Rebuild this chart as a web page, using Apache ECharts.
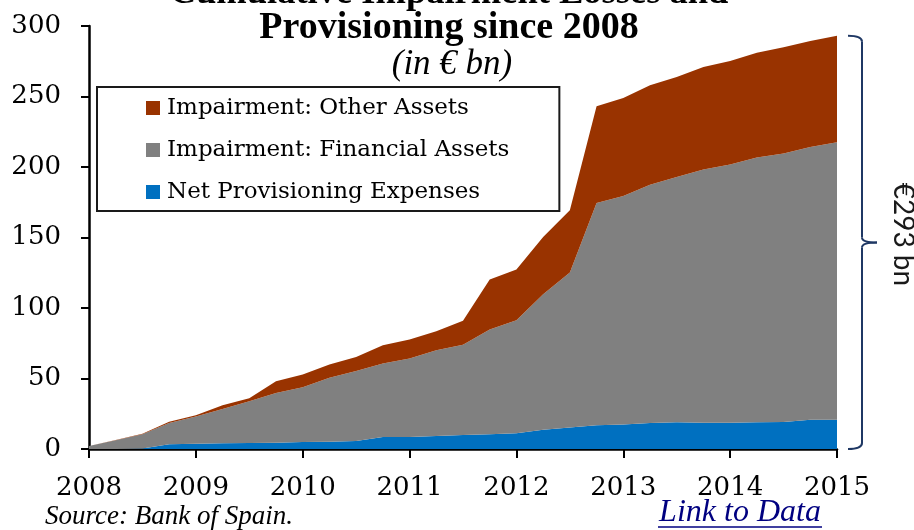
<!DOCTYPE html>
<html>
<head>
<meta charset="utf-8">
<script src="https://cdn.jsdelivr.net/npm/echarts@6/dist/echarts.min.js"></script>
<style>
  html, body { margin: 0; padding: 0; background: #fff; }
  #chart { width: 914px; height: 530px; }
</style>
</head>
<body>
<div id="chart"></div>
<script>
// Quarterly observations, 2008 to 2015 (EUR bn, cumulative)
const quarters = [
  '2008', '2008Q2', '2008Q3', '2008Q4',
  '2009', '2009Q2', '2009Q3', '2009Q4',
  '2010', '2010Q2', '2010Q3', '2010Q4',
  '2011', '2011Q2', '2011Q3', '2011Q4',
  '2012', '2012Q2', '2012Q3', '2012Q4',
  '2013', '2013Q2', '2013Q3', '2013Q4',
  '2014', '2014Q2', '2014Q3', '2014Q4',
  '2015'
];

const netProvisioning = [
  0, 0, 0.3, 3.3, 3.8, 4.0, 4.3, 4.5, 5.0, 5.2,
  5.7, 8.5, 8.5, 9.2, 9.9, 10.4, 11.1, 13.7, 15.2, 16.8,
  17.3, 18.4, 18.9, 18.7, 18.7, 18.9, 19.1, 20.8, 20.8
];

const impairmentFinancial = [
  2.1, 6.2, 10.1, 15.2, 19.2, 24.4, 29.6, 35.2, 38.8, 45.4,
  49.6, 52.1, 55.6, 60.8, 64.1, 74.3, 80.2, 96.0, 109.9, 157.7,
  162.1, 169.1, 174.0, 179.5, 183.0, 187.8, 190.4, 193.4, 196.7
];

const impairmentOther = [
  0, 0.2, 0.5, 0.9, 0.9, 2.6, 2.1, 8.3, 9.0, 9.4,
  10.0, 12.9, 13.5, 13.5, 17.0, 35.6, 36.0, 40.7, 44.2, 68.5,
  69.6, 70.5, 70.9, 72.8, 73.5, 74.4, 75.5, 75.2, 75.5
];

const yTicks = { min: 0, max: 300, interval: 50 };

const COLORS = { net: '#0070C0', fin: '#808080', other: '#993300' };
const SERIF = '"DejaVu Serif", serif';
const TITLE_SERIF = '"Liberation Serif", serif';
const BRACE = '#1F3864';

const chart = echarts.init(document.getElementById('chart'), null, { renderer: 'canvas' });

function areaSeries(name, data, color) {
  return {
    name: name,
    type: 'line',
    stack: 'total',
    data: data,
    showSymbol: false,
    symbol: 'none',
    lineStyle: { width: 0 },
    areaStyle: { color: color, opacity: 1 },
    itemStyle: { color: color },
    emphasis: { disabled: true },
    silent: true
  };
}

const option = {
  animation: false,
  backgroundColor: '#fff',
  grid: { left: 89, right: 77, top: 26, bottom: 81, containLabel: false },
  xAxis: {
    type: 'category',
    data: quarters,
    boundaryGap: false,
    axisLine: { show: true, lineStyle: { color: '#000', width: 2.5 } },
    axisTick: { show: true, interval: 3, length: 9, lineStyle: { color: '#000', width: 2 } },
    axisLabel: {
      interval: 3,
      margin: 26,
      color: '#000',
      fontFamily: SERIF,
      fontSize: 26
    },
    splitLine: { show: false }
  },
  yAxis: {
    type: 'value',
    min: yTicks.min,
    max: yTicks.max,
    interval: yTicks.interval,
    axisLine: { show: true, lineStyle: { color: '#000', width: 2.5 } },
    axisTick: { show: true, length: 8, lineStyle: { color: '#000', width: 2 } },
    axisLabel: {
      margin: 28,
      color: '#000',
      fontFamily: SERIF,
      fontSize: 26
    },
    splitLine: { show: false }
  },
  legend: {
    orient: 'vertical',
    left: 97,
    top: 87,
    padding: [7, 50, 5, 49],
    itemWidth: 14,
    itemHeight: 14,
    itemGap: 14,
    icon: 'rect',
    borderColor: '#1a1a1a',
    borderWidth: 2,
    backgroundColor: '#fff',
    itemStyle: { borderWidth: 0 },
    textStyle: { fontFamily: SERIF, fontSize: 23, color: '#000', lineHeight: 28, padding: [0, 0, 0, 2] },
    selectedMode: false,
    data: ['Impairment: Other Assets', 'Impairment: Financial Assets', 'Net Provisioning Expenses']
  },
  series: [
    areaSeries('Net Provisioning Expenses', netProvisioning, COLORS.net),
    areaSeries('Impairment: Financial Assets', impairmentFinancial, COLORS.fin),
    areaSeries('Impairment: Other Assets', impairmentOther, COLORS.other)
  ]
};

chart.setOption(option);

// Brace spanning the final stacked total, placed from the axis scales
const last = quarters.length - 1;
const total = netProvisioning[last] + impairmentFinancial[last] + impairmentOther[last];
const pTop = chart.convertToPixel({ gridIndex: 0 }, [last, total]);
const pBot = chart.convertToPixel({ gridIndex: 0 }, [last, 0]);
const x0 = pTop[0] + 11, x1 = pTop[0] + 25, x2 = pTop[0] + 40;
const yT = pTop[1], yB = pBot[1], yM = (yT + yB) / 2;
const braceStyle = { stroke: BRACE, lineWidth: 2, fill: null };

function curve(ax, ay, cx, cy, bx, by) {
  return {
    type: 'bezierCurve', silent: true,
    shape: { x1: ax, y1: ay, cpx1: cx, cpy1: cy, x2: bx, y2: by },
    style: braceStyle
  };
}
function seg(ax, ay, bx, by) {
  return {
    type: 'line', silent: true,
    shape: { x1: ax, y1: ay, x2: bx, y2: by },
    style: braceStyle
  };
}

const totalLabel = '€' + Math.round(total) + ' bn';

chart.setOption({
  graphic: [
    {
      type: 'text', x: 449, y: -6, silent: true,
      style: {
        text: 'Cumulative Impairment Losses and',
        font: 'bold 36.5px ' + TITLE_SERIF,
        fill: '#000', align: 'center', verticalAlign: 'middle'
      }
    },
    {
      type: 'text', x: 449, y: 28, silent: true,
      style: {
        text: 'Provisioning since 2008',
        font: 'bold 38px ' + TITLE_SERIF,
        fill: '#000', align: 'center', verticalAlign: 'middle'
      }
    },
    {
      type: 'text', x: 452, y: 65, silent: true,
      style: {
        text: '(in € bn)',
        font: 'italic 35px ' + TITLE_SERIF,
        fill: '#000', align: 'center', verticalAlign: 'middle'
      }
    },
    {
      type: 'text', x: 45, y: 517, silent: true,
      style: {
        text: 'Source: Bank of Spain.',
        font: 'italic 27px ' + TITLE_SERIF,
        fill: '#000', align: 'left', verticalAlign: 'middle'
      }
    },
    {
      type: 'text', x: 740, y: 513, silent: true,
      style: {
        text: 'Link to Data',
        font: 'italic 32px ' + TITLE_SERIF,
        fill: '#000080', align: 'center', verticalAlign: 'middle'
      }
    },
    {
      type: 'line', silent: true,
      shape: { x1: 658, y1: 527, x2: 822, y2: 527 },
      style: { stroke: '#000080', lineWidth: 1.5 }
    },
    curve(x0, yT, x1, yT, x1, yT + 6),
    seg(x1, yT + 6, x1, yM - 5),
    curve(x1, yM - 5, x1, yM, x2, yM),
    curve(x2, yM, x1, yM, x1, yM + 5),
    seg(x1, yM + 5, x1, yB - 6),
    curve(x1, yB - 6, x1, yB, x0, yB),
    {
      type: 'text', x: 903, y: yM - 8, rotation: -Math.PI / 2, silent: true,
      style: {
        text: totalLabel,
        font: '28px Lato, "Open Sans", sans-serif',
        fill: '#1a1a1a', align: 'center', verticalAlign: 'middle'
      }
    }
  ]
});
</script>
</body>
</html>
